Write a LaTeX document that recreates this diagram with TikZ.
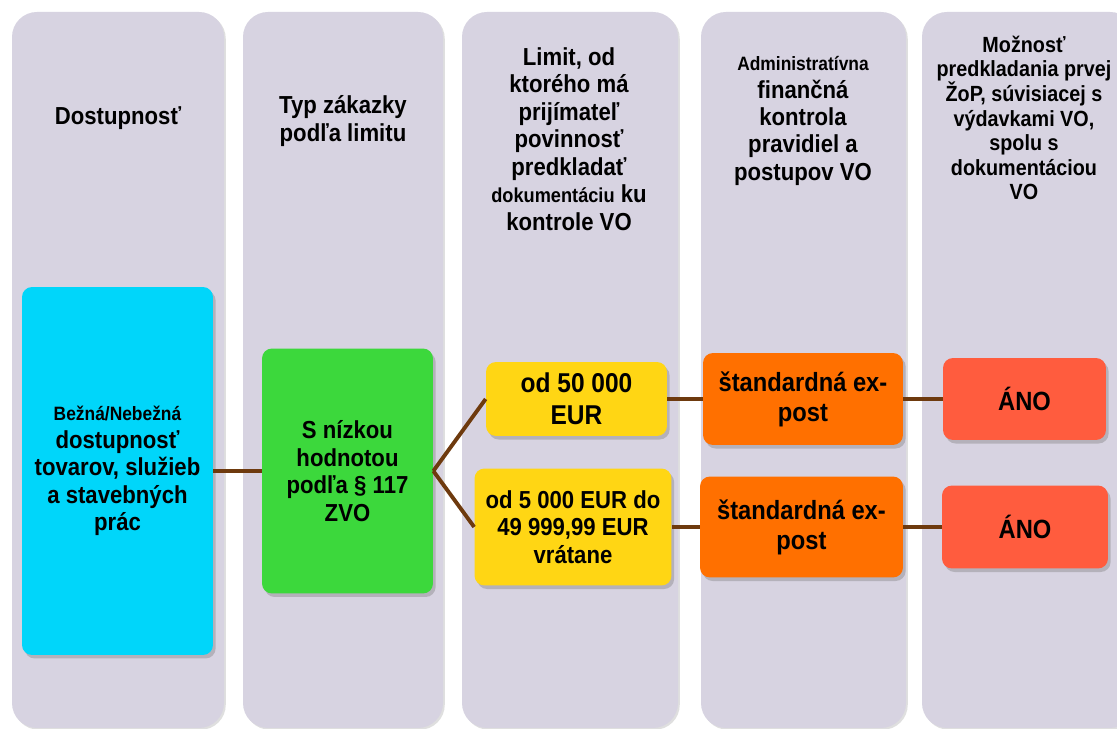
\documentclass[tikz,border=0pt]{standalone}
\usepackage{fontspec}
\setmainfont{Liberation Sans}[FakeStretch=0.9]
\usepackage{xcolor}
\usetikzlibrary{
    shapes,
    shadows,
    calc
}

\definecolor{colgray}{RGB}{215,211,225}
\definecolor{availcyan}{RGB}{0,214,250}
\definecolor{lowgreen}{RGB}{60,216,60}
\definecolor{limyellow}{RGB}{255,214,20}
\definecolor{ctrlorange}{RGB}{255,112,0}
\definecolor{yesred}{RGB}{255,92,62}
\definecolor{linkbrown}{RGB}{110,58,14}

\begin{document}
\begin{tikzpicture}[x=0.02cm, y=-0.02cm,
                column/.style={fill=colgray, rounded corners=0.5cm,
                    drop shadow={shadow xshift=1pt, shadow yshift=-1pt, opacity=.25}},
                head/.style={align=center, font=\bfseries\fontsize{14}{15.6}\selectfont},
                box/.style={rounded corners=0.2cm, align=center, inner sep=0pt,
                    font=\bfseries\fontsize{14}{15.6}\selectfont,
                    drop shadow={shadow xshift=1.5pt, shadow yshift=-2pt, opacity=.4}},
                big/.style={font=\bfseries\fontsize{15}{17}\selectfont},
                link/.style={draw=linkbrown, line width=2.2pt}]
                \useasboundingbox (0,0) rectangle (1117,729);
                \fill[white] (0,0) rectangle (1117,729);
                \foreach \l/\r in {12/224, 243/443, 462/678, 701/906, 922/1135}{
                    \path[column] (\l,12) rectangle (\r,728);
                }
                \node[head] (h1) at (118,118) {Dostupnosť};
                \node[head] (h2) at (343,121) {Typ zákazky\\podľa limitu};
                \node[head] (h3) at (569,139) {Limit, od\\ktorého má\\prijímateľ\\povinnosť\\predkladať\\{\fontsize{11.5}{15.6}\selectfont dokumentáciu} ku\\kontrole VO};
                \node[head] (h4) at (803,121) {{\fontsize{11}{15.6}\selectfont Administratívna}\\finančná\\kontrola\\pravidiel a\\postupov VO};
                \node[head, font=\bfseries\fontsize{12.5}{14}\selectfont] (h5) at (1024,118) {Možnosť\\predkladania prvej\\ŽoP, súvisiacej s\\výdavkami VO,\\spolu s\\dokumentáciou\\VO};
                \node[box, fill=availcyan, minimum width=3.82cm, minimum height=7.36cm] (avail) at (117.5,471) {{\fontsize{11}{15.6}\selectfont Bežná/Nebežná}\\dostupnosť\\tovarov, služieb\\a stavebných\\prác};
                \node[box, fill=lowgreen, minimum width=3.42cm, minimum height=4.9cm] (lowval) at (347.5,471) {S nízkou\\hodnotou\\podľa § 117\\ZVO};
                \node[box, fill=limyellow, minimum width=3.62cm, minimum height=1.48cm, font=\bfseries\fontsize{15.5}{18}\selectfont] (lim1) at (576.5,399) {od 50 000\\EUR};
                \node[box, fill=limyellow, minimum width=3.94cm, minimum height=2.34cm] (lim2) at (573,527) {od 5 000 EUR do\\49 999,99 EUR\\vrátane};
                \node[box, big, fill=ctrlorange, minimum width=4cm, minimum height=1.84cm] (ctrl1) at (803,399) {štandardná ex-\\post};
                \node[box, big, fill=ctrlorange, minimum width=4.06cm, minimum height=2.02cm] (ctrl2) at (801.5,527) {štandardná ex-\\post};
                \node[box, big, fill=yesred, minimum width=3.26cm, minimum height=1.64cm] (yes1) at (1024.5,399) {ÁNO};
                \node[box, big, fill=yesred, minimum width=3.32cm, minimum height=1.66cm] (yes2) at (1025,527) {ÁNO};
                \draw[link] (avail) -- (lowval);
                \draw[link] (lowval.east) -- (lim1.west);
                \draw[link] (lowval.east) -- (lim2.west);
                \draw[link] (lim1) -- (ctrl1);
                \draw[link] (ctrl1) -- (yes1);
                \draw[link] (lim2) -- (ctrl2);
                \draw[link] (ctrl2) -- (yes2);
            \end{tikzpicture}
\end{document}
